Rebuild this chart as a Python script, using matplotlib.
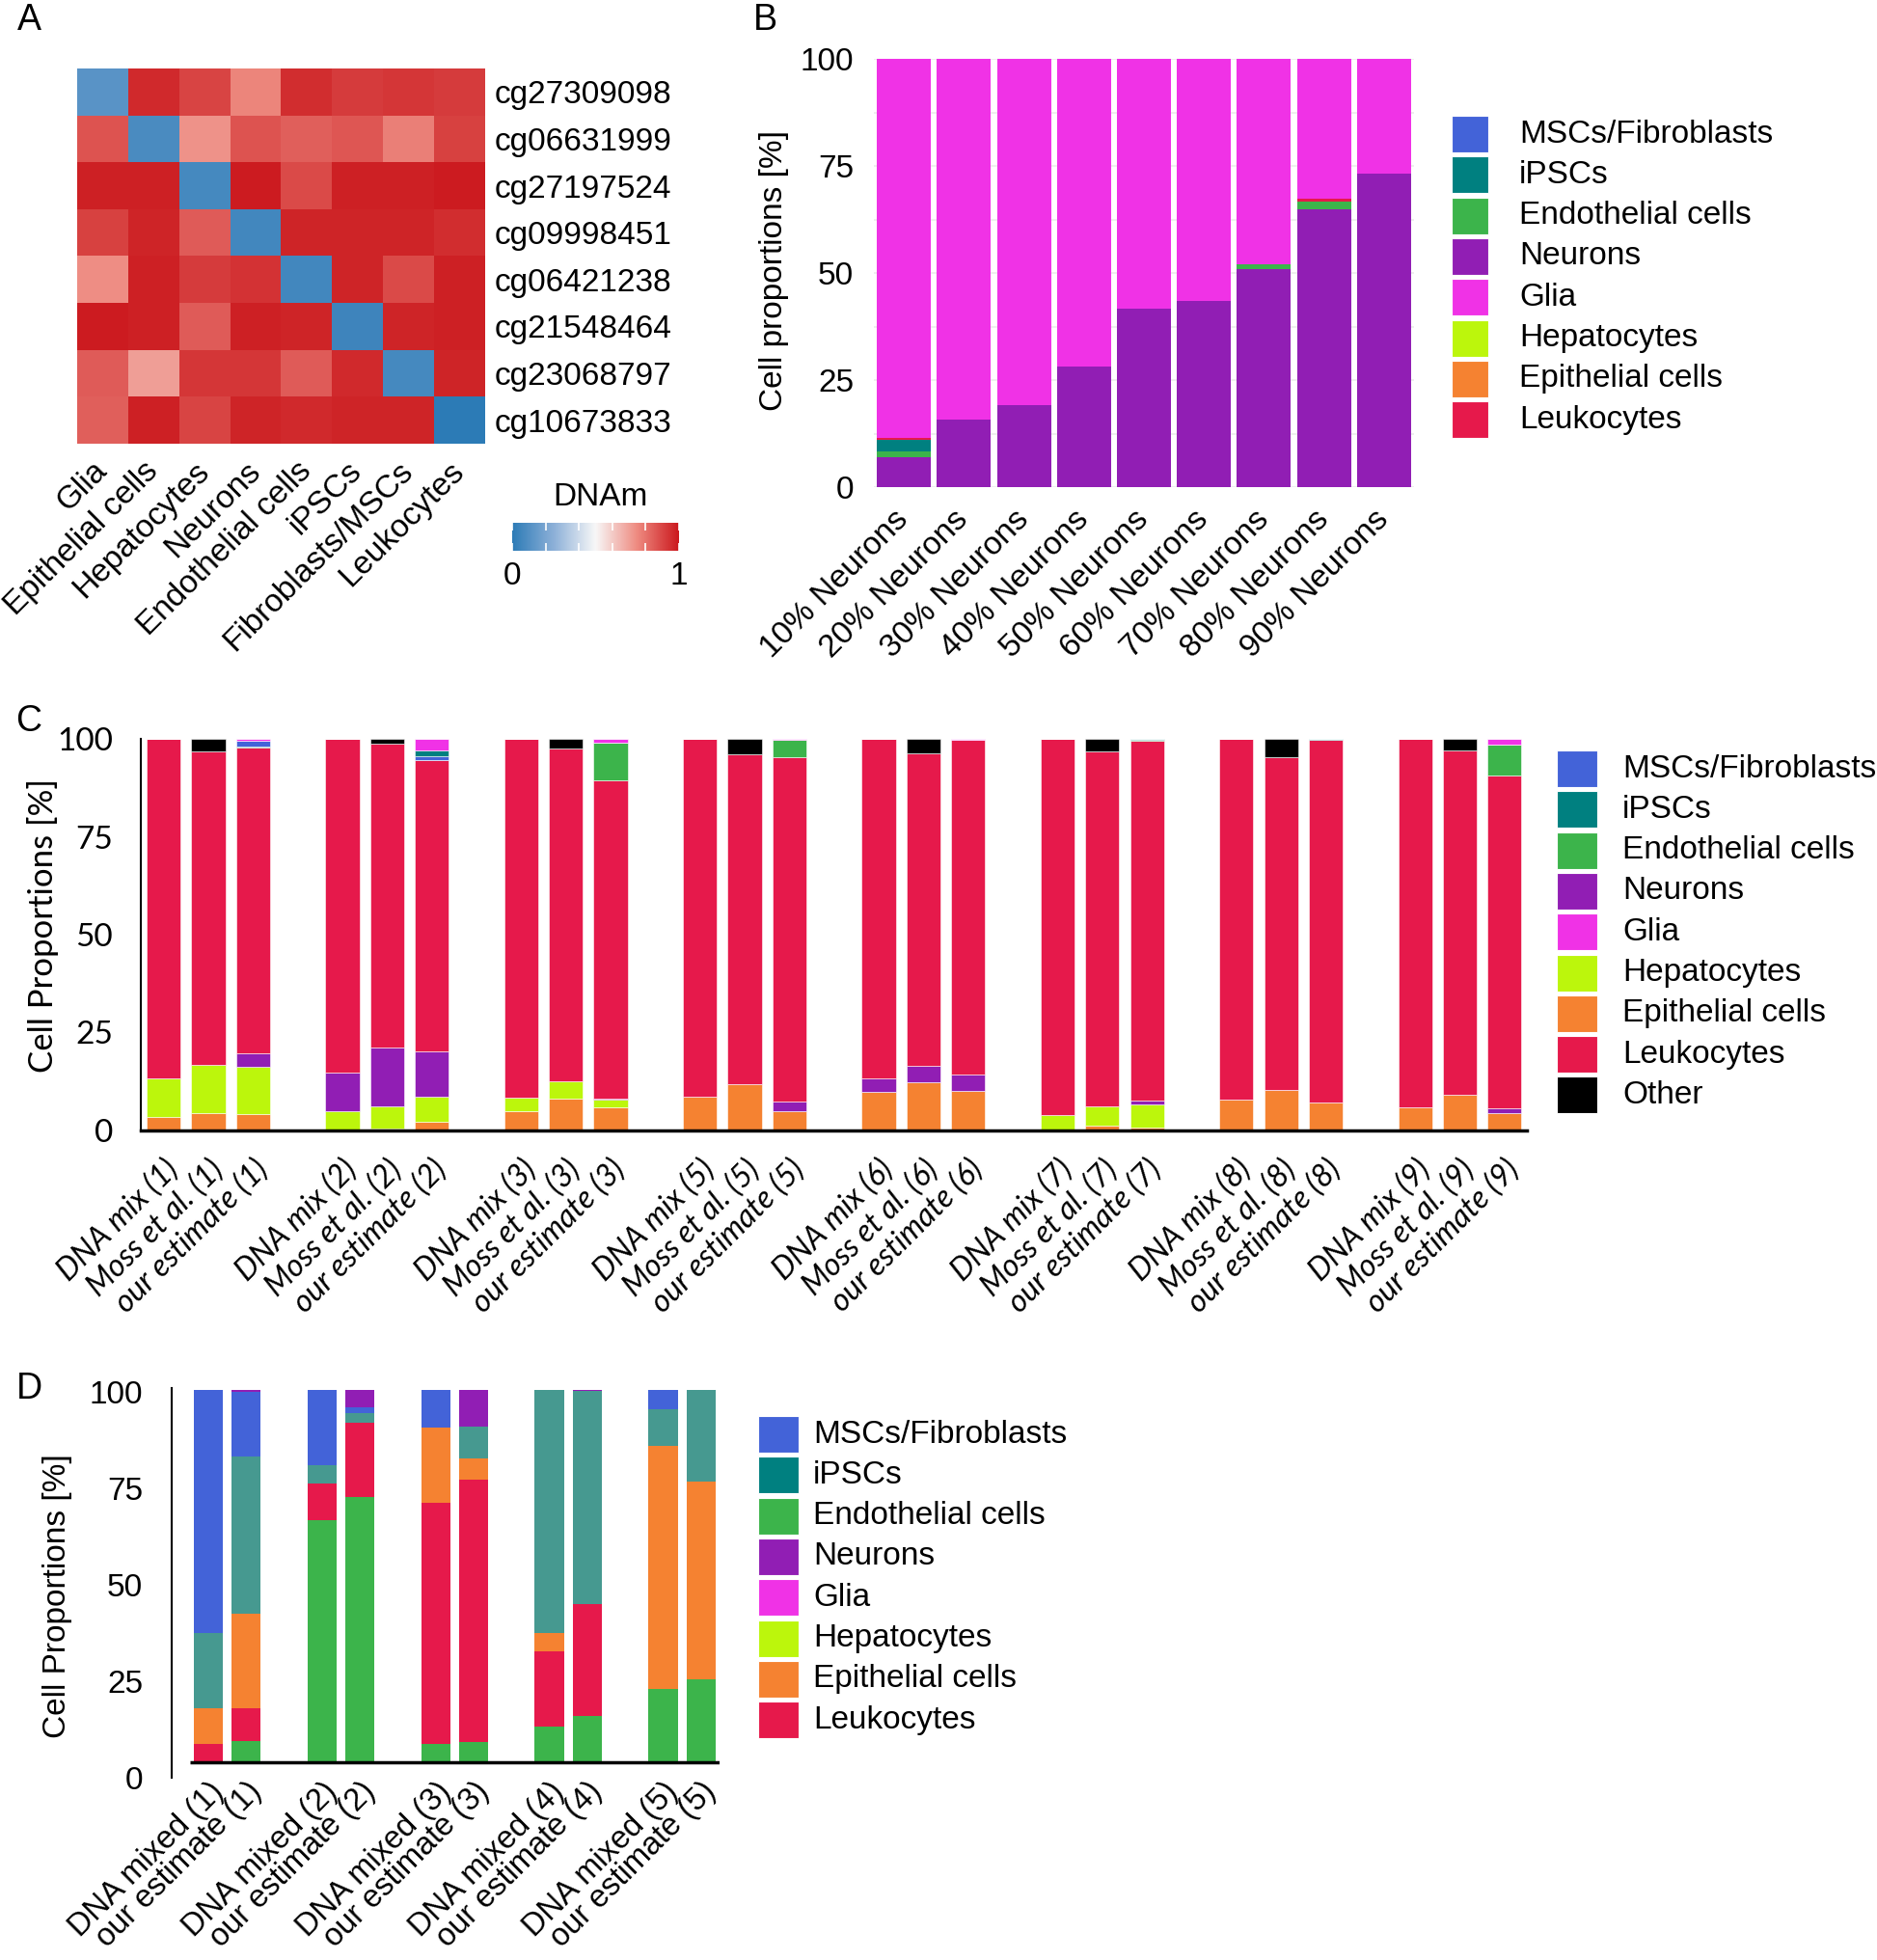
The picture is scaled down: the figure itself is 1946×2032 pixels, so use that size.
import numpy as np
import matplotlib
matplotlib.use("Agg")
import matplotlib.pyplot as plt
from matplotlib.colors import LinearSegmentedColormap
from matplotlib.patches import Rectangle
from matplotlib.cm import ScalarMappable

plt.rcParams['font.family'] = ['Liberation Sans', 'DejaVu Sans']

W, H = 1946, 2032

# ---------------- panel A: DNAm of marker CpGs
cpg_ids = ["cg27309098", "cg06631999", "cg27197524", "cg09998451",
           "cg06421238", "cg21548464", "cg23068797", "cg10673833"]
heat_cells = ["Glia", "Epithelial cells", "Hepatocytes", "Neurons",
              "Endothelial cells", "iPSCs", "Fibroblasts/MSCs", "Leukocytes"]
dnam = np.array([
    [0.12, 0.96, 0.90, 0.76, 0.95, 0.92, 0.93, 0.92],
    [0.87, 0.08, 0.73, 0.87, 0.84, 0.86, 0.77, 0.91],
    [0.98, 0.98, 0.07, 0.99, 0.89, 0.98, 0.98, 0.99],
    [0.91, 0.97, 0.85, 0.06, 0.97, 0.97, 0.97, 0.95],
    [0.74, 0.98, 0.92, 0.94, 0.06, 0.97, 0.89, 0.98],
    [0.99, 0.98, 0.85, 0.98, 0.97, 0.05, 0.97, 0.98],
    [0.85, 0.70, 0.93, 0.93, 0.85, 0.96, 0.07, 0.97],
    [0.84, 0.98, 0.90, 0.97, 0.96, 0.97, 0.97, 0.00],
])

# ---------------- colours
colors = {
    "MSCs/Fibroblasts": "#4363D8",
    "iPSCs": "#008080",
    "Endothelial cells": "#3CB44B",
    "Neurons": "#911EB4",
    "Glia": "#F032E6",
    "Hepatocytes": "#BCF60C",
    "Epithelial cells": "#F58231",
    "Leukocytes": "#E6194B",
    "Other": "#000000",
}
legend_names = ["MSCs/Fibroblasts", "iPSCs", "Endothelial cells", "Neurons", "Glia",
                "Hepatocytes", "Epithelial cells", "Leukocytes"]

# ---------------- panel B: neuron / glia dilution
b_labels = ["10% Neurons", "20% Neurons", "30% Neurons", "40% Neurons", "50% Neurons",
            "60% Neurons", "70% Neurons", "80% Neurons", "90% Neurons"]
b_neurons = [7.0, 15.7, 19.2, 28.2, 41.6, 43.5, 51.0, 64.8, 73.3]
b_endo = [1.3, 0, 0, 0, 0, 0, 1.0, 1.8, 0]
b_ipsc = [2.7, 0, 0, 0, 0, 0, 0, 0, 0]
b_leuk = [0.5, 0, 0, 0, 0, 0, 0, 0.7, 0]
b_glia = [88.5, 84.3, 80.8, 71.8, 58.4, 56.5, 48.0, 32.7, 26.7]

# ---------------- panel C: blood DNA mixes vs Moss et al. vs our estimate
c_groups = ["1", "2", "3", "5", "6", "7", "8", "9"]
c_epi = [3.4, 4.5, 4.3, 0, 0.6, 2.1, 4.9, 8.2, 6.0, 8.5, 11.7, 4.9,
         9.9, 12.3, 10.1, 0, 1.2, 0.7, 8.0, 10.3, 7.2, 5.9, 9.0, 4.4]
c_hep = [9.9, 12.3, 11.9, 4.9, 5.6, 6.6, 3.5, 4.4, 1.8, 0, 0, 0,
         0, 0, 0, 3.9, 4.9, 5.9, 0, 0, 0, 0, 0, 0]
c_neu = [0, 0, 3.5, 10.0, 15.0, 11.5, 0, 0, 0.4, 0, 0, 2.5,
         3.5, 4.1, 4.1, 0, 0, 1.0, 0, 0, 0, 0, 0, 1.2]
c_leuk = [86.7, 80.0, 78.0, 85.1, 77.6, 74.3, 91.6, 84.9, 81.3, 91.5, 84.4, 87.8,
          86.6, 79.8, 85.6, 96.1, 90.6, 92.0, 92.0, 85.1, 92.6, 94.1, 88.0, 85.0]
c_endo = [0, 0, 0.25, 0, 0, 0, 0, 0, 9.6, 0, 0, 4.5,
          0, 0, 0, 0, 0, 0.2, 0, 0, 0, 0, 0, 8.0]
c_msc = [0, 0, 1.6, 0, 0, 1.1, 0, 0, 0, 0, 0, 0,
         0, 0, 0, 0, 0, 0, 0, 0, 0, 0, 0, 0]
c_ipsc = [0, 0, 0, 0, 0, 1.5, 0, 0, 0, 0, 0, 0,
          0, 0, 0, 0, 0, 0.2, 0, 0, 0.2, 0, 0, 0]
c_glia = [0, 0, 0.4, 0, 0, 2.9, 0, 0, 0.9, 0, 0, 0.3,
          0, 0, 0.2, 0, 0, 0, 0, 0, 0, 0, 0, 1.4]
c_other = [0, 3.1, 0, 0, 1.2, 0, 0, 2.5, 0, 0, 3.9, 0,
           0, 3.8, 0, 0, 3.3, 0, 0, 4.6, 0, 0, 3.0, 0]

# ---------------- panel D: cell line DNA mixes
d_groups = ["1", "2", "3", "4", "5"]
d_endo = [0, 5.6, 64.9, 71.3, 4.9, 5.4, 9.7, 12.3, 19.8, 22.3]
d_leuk = [4.8, 9.0, 9.9, 19.8, 64.8, 70.4, 20.0, 30.1, 0, 0]
d_epi = [9.8, 25.3, 0, 0, 20.2, 5.8, 5.0, 0, 65.1, 53.2]
d_ipsc = [20.0, 42.3, 5.1, 2.7, 0, 8.5, 65.3, 57.3, 9.9, 24.5]
d_msc = [65.3, 17.2, 20.0, 1.5, 10.1, 0, 0, 0, 5.1, 0]
d_neu = [0, 0.5, 0, 4.7, 0, 9.8, 0, 0.3, 0, 0]


def axes_px(fig, l, t, r, b):
    return fig.add_axes([l / W, 1 - b / H, (r - l) / W, (b - t) / H])


def draw_legend(fig, names, x_patch, y_first, x_text, step=42.3, pw=38, ph=38):
    for i, name in enumerate(names):
        yc = y_first + i * step
        fig.add_artist(Rectangle((x_patch / W, 1 - (yc + ph / 2) / H), pw / W, ph / H,
                                 transform=fig.transFigure, facecolor=colors[name],
                                 edgecolor="white", lw=0.8))
        fig.text(x_text / W, 1 - yc / H, name, ha="left", va="center", fontsize=24)


def stack(ax, x, layers, width, lw=0.0, override=None):
    bottom = np.zeros(len(x))
    for name, vals in layers:
        vals = np.asarray(vals, dtype=float)
        col = colors[name] if override is None else override.get(name, colors[name])
        ax.bar(x, vals, width=width, bottom=bottom, color=col,
               edgecolor="white" if lw else col, linewidth=lw, zorder=2)
        bottom += vals


fig = plt.figure(figsize=(W / 100, H / 100), dpi=100)

# ================= A
ax_a = axes_px(fig, 80, 71, 503, 460)
cmap = LinearSegmentedColormap.from_list(
    "dnam", [(0, "#2C7BB6"), (0.25, "#8DB0D8"), (0.5, "#F7F7F7"),
             (0.75, "#EE8A80"), (1, "#CB181D")])
ax_a.imshow(dnam, cmap=cmap, vmin=0, vmax=1, aspect="auto", interpolation="nearest")
ax_a.set_xticks(range(len(heat_cells)))
ax_a.set_xticklabels(heat_cells, rotation=45, ha="right", va="center",
                     rotation_mode="anchor", fontsize=24)
ax_a.set_yticks(range(len(cpg_ids)))
ax_a.set_yticklabels(cpg_ids, fontsize=24)
ax_a.yaxis.tick_right()
ax_a.tick_params(length=0, pad=7)
ax_a.tick_params(axis="x", pad=17)
for s in ax_a.spines.values():
    s.set_visible(False)

ax_cb = axes_px(fig, 531, 542, 704, 571)
cb = fig.colorbar(ScalarMappable(cmap=cmap, norm=plt.Normalize(0, 1)), cax=ax_cb,
                  orientation="horizontal")
cb.outline.set_visible(False)
cb.set_ticks([0, 0.2, 0.4, 0.6, 0.8, 1])
cb.set_ticklabels(["0", "", "", "", "", "1"])
ax_cb.tick_params(direction="in", color="white", length=6, width=1.2, top=True,
                  labelsize=24, pad=8)
fig.text(622 / W, 1 - 516 / H, "DNAm", ha="center", va="center", fontsize=24)

fig.text(30 / W, 1 - 21 / H, "A", ha="center", va="center", fontsize=27)

# ================= B
ax_b = axes_px(fig, 906, 61, 1466, 505)
xb = np.arange(len(b_labels))
stack(ax_b, xb, [("Neurons", b_neurons), ("Endothelial cells", b_endo), ("iPSCs", b_ipsc),
                 ("Leukocytes", b_leuk), ("Glia", b_glia)], width=0.9)
ax_b.set_xlim(-0.5, len(b_labels) - 0.5)
ax_b.set_ylim(0, 100)
ax_b.set_yticks([0, 25, 50, 75, 100])
ax_b.set_yticks([12.5, 37.5, 62.5, 87.5], minor=True)
ax_b.grid(axis="y", which="both", color="#EBEBEB", lw=1.2, zorder=0)
ax_b.set_axisbelow(True)
ax_b.set_xticks(xb)
ax_b.set_xticklabels(b_labels, rotation=45, ha="right", va="center", rotation_mode="anchor")
ax_b.tick_params(axis="both", which="both", length=0, labelsize=24)
ax_b.tick_params(axis="y", pad=15)
ax_b.tick_params(axis="x", pad=21)
for s in ax_b.spines.values():
    s.set_visible(False)
fig.text(803 / W, 1 - 280 / H, "Cell proportions [%]", rotation=90, ha="center",
         va="center", fontsize=24)
fig.text(793 / W, 1 - 21 / H, "B", ha="center", va="center", fontsize=27)
draw_legend(fig, legend_names, 1505, 139, 1575)

# ================= C
ax_c = axes_px(fig, 146, 766, 1583, 1172)
xc = np.array([4 * g + j for g in range(len(c_groups)) for j in range(3)])
c_labels = [lab for g in c_groups for lab in
            (f"DNA mix ({g})", f"Moss et al. ({g})", f"our estimate ({g})")]
stack(ax_c, xc, [("Epithelial cells", c_epi), ("Hepatocytes", c_hep), ("Neurons", c_neu),
                 ("Leukocytes", c_leuk), ("Endothelial cells", c_endo),
                 ("MSCs/Fibroblasts", c_msc), ("iPSCs", c_ipsc), ("Glia", c_glia),
                 ("Other", c_other)], width=0.76, lw=0.4)
ax_c.set_xlim(-0.51, 30.5)
ax_c.set_ylim(0, 100)
ax_c.set_yticks([0, 25, 50, 75, 100])
ax_c.set_yticklabels(["0", "25", "50", "75", "100"], family="Lato", fontsize=24)
ax_c.set_xticks(xc)
ax_c.set_xticklabels(c_labels, rotation=45, ha="right", va="top", rotation_mode="anchor",
                     family="Lato", style="italic", fontsize=23)
ax_c.tick_params(length=0)
ax_c.tick_params(axis="y", pad=21)
ax_c.tick_params(axis="x", pad=18)
ax_c.spines["top"].set_visible(False)
ax_c.spines["right"].set_visible(False)
ax_c.spines["left"].set_linewidth(1.5)
ax_c.spines["bottom"].set_linewidth(2.5)
fig.text(45 / W, 1 - 960 / H, "Cell Proportions [%]", rotation=90, ha="center",
         va="center", fontsize=25, family="Lato")
fig.text(30 / W, 1 - 748 / H, "C", ha="center", va="center", fontsize=27)
draw_legend(fig, legend_names + ["Other"], 1614, 797, 1682, pw=42)

# ================= D
ax_d = axes_px(fig, 178, 1439, 746, 1843)
xd = np.array([3 * g + j for g in range(len(d_groups)) for j in range(2)])
d_labels = [lab for g in d_groups for lab in (f"DNA mixed ({g})", f"our estimate ({g})")]
ax_d.set_xlim(-0.967, 13.49)
ax_d.set_ylim(0, 101)
ax_d.set_yticks([0, 25, 50, 75, 100])
ax_d.set_xticks(xd)
ax_d.set_xticklabels(d_labels, rotation=45, ha="right", va="top", rotation_mode="anchor",
                     fontsize=23.5)
ax_d.tick_params(length=0, labelsize=24)
ax_d.tick_params(axis="y", pad=21.5)
ax_d.tick_params(axis="x", labelsize=23.5, pad=-1)
for side in ["top", "right", "bottom"]:
    ax_d.spines[side].set_visible(False)
ax_d.spines["left"].set_linewidth(1.5)

ax_db = ax_d.twinx()
ax_db.set_ylim(-4.15, 100.5)
stack(ax_db, xd, [("Endothelial cells", d_endo), ("Leukocytes", d_leuk),
                  ("Epithelial cells", d_epi), ("iPSCs", d_ipsc),
                  ("MSCs/Fibroblasts", d_msc), ("Neurons", d_neu)],
      width=0.77, override={"iPSCs": "#469990"})
ax_db.hlines(0, -0.49, 13.49, color="black", lw=2.5, zorder=3)
ax_db.set_yticks([])
for s in ax_db.spines.values():
    s.set_visible(False)
fig.text(60 / W, 1 - 1655 / H, "Cell Proportions [%]", rotation=90, ha="center",
         va="center", fontsize=24)
fig.text(30 / W, 1 - 1440 / H, "D", ha="center", va="center", fontsize=27)
draw_legend(fig, legend_names, 786, 1487, 843, pw=42)

fig.savefig("out.png", dpi=100, facecolor="white")
